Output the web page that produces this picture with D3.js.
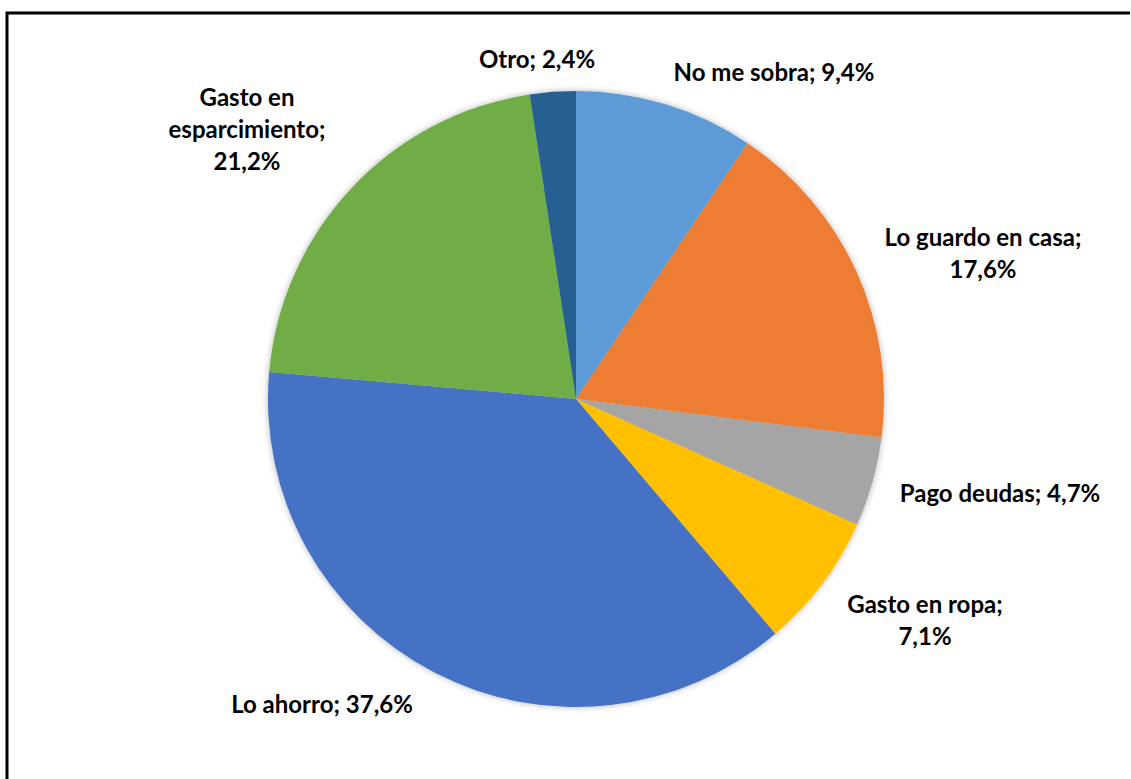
<!DOCTYPE html>
<html>
<head>
<meta charset="utf-8">
<script src="https://cdn.jsdelivr.net/npm/d3@7"></script>
<style>
  html, body { margin: 0; padding: 0; background: #fff; }
  svg { display: block; }
  .lbl { font-family: Lato, "Open Sans", sans-serif; font-weight: 700; fill: #000; }
</style>
</head>
<body>
<svg id="chart" width="1131" height="779"></svg>
<script>
// Destino del dinero sobrante (%)
const categories = ["No me sobra", "Lo guardo en casa", "Pago deudas", "Gasto en ropa",
                    "Lo ahorro", "Gasto en esparcimiento", "Otro"];
const values = [9.4, 17.6, 4.7, 7.1, 37.6, 21.2, 2.4];
const colors = ["#5B9BD5", "#ED7D31", "#A5A5A5", "#FFC000", "#4472C4", "#70AD47", "#255E91"];

// Label line breaks and anchor points (layout only)
const labelLines = [
  ["No me sobra; 9,4%"],
  ["Lo guardo en casa;", "17,6%"],
  ["Pago deudas; 4,7%"],
  ["Gasto en ropa;", "7,1%"],
  ["Lo ahorro; 37,6%"],
  ["Gasto en", "esparcimiento;", "21,2%"],
  ["Otro; 2,4%"]
];
const labelPos = [[774, 73], [983, 254], [1000, 494], [925, 621], [322, 705], [247, 130], [537, 60]];

const svg = d3.select("#chart");
const W = 1131, H = 779;
const cx = 576, cy = 399, R = 308;

// Frame
svg.append("path")
  .attr("d", `M7,${H + 5} L7,13 L1130,13`)
  .attr("fill", "none").attr("stroke", "#000").attr("stroke-width", 3);

const defs = svg.append("defs");
const f = defs.append("filter").attr("id", "soft").attr("x", "-10%").attr("y", "-10%")
  .attr("width", "120%").attr("height", "120%");
f.append("feDropShadow").attr("dx", 0).attr("dy", 0).attr("stdDeviation", 3)
  .attr("flood-color", "#000").attr("flood-opacity", 0.3);

const pie = d3.pie().sort(null).value(d => d)(values);
const arc = d3.arc().innerRadius(0).outerRadius(R);

const g = svg.append("g").attr("transform", `translate(${cx},${cy})`).attr("filter", "url(#soft)");
g.selectAll("path").data(pie).join("path")
  .attr("d", arc)
  .attr("fill", (d, i) => colors[i]);

const fs = 24, lh = 32;
const labels = svg.append("g");
labelLines.forEach((lines, i) => {
  const [x, y] = labelPos[i];
  const t = labels.append("text").attr("class", "lbl")
    .attr("text-anchor", "middle").attr("font-size", fs);
  const y0 = y - (lines.length - 1) * lh / 2;
  lines.forEach((s, j) => {
    t.append("tspan").attr("x", x).attr("y", y0 + j * lh).attr("dy", "0.35em").text(s);
  });
});
</script>
</body>
</html>
